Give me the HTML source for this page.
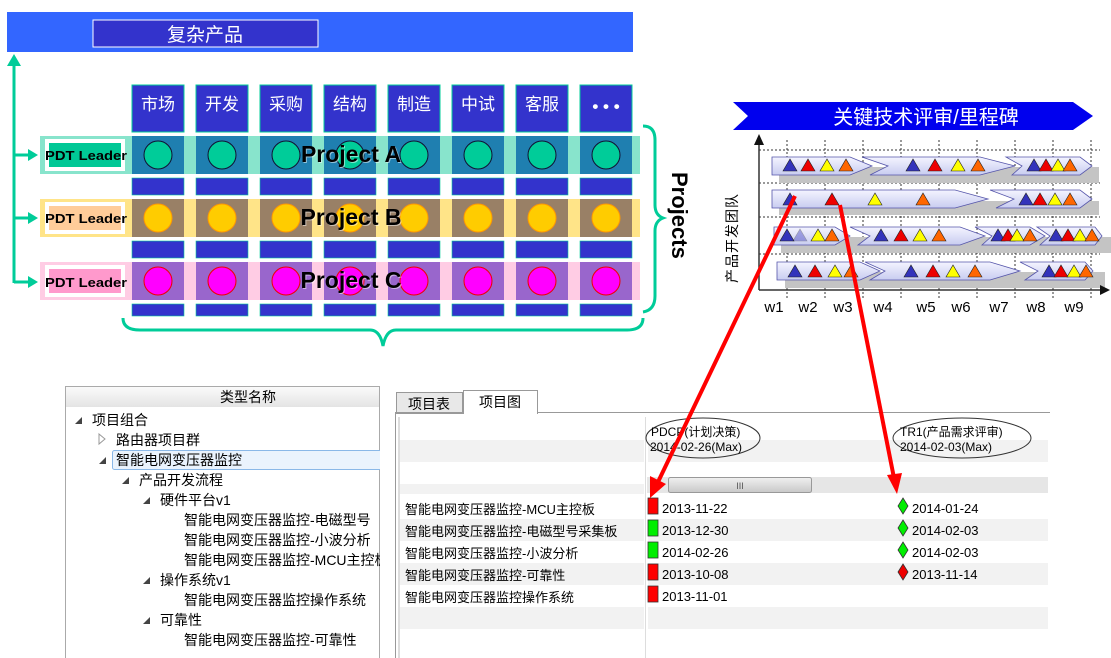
<!DOCTYPE html>
<html><head><meta charset="utf-8"><style>
html,body{margin:0;padding:0;background:#fff;width:1111px;height:658px;overflow:hidden}
svg{display:block}
text{font-family:"Liberation Sans","Noto Sans CJK SC",sans-serif}
</style></head><body>
<svg width="1111" height="658" viewBox="0 0 1111 658" xmlns="http://www.w3.org/2000/svg">
<defs>
<linearGradient id="bar" x1="0" y1="0" x2="0" y2="1"><stop offset="0" stop-color="#f4f4ff"/><stop offset="1" stop-color="#c8ccf0"/></linearGradient>
<linearGradient id="hdr" x1="0" y1="0" x2="0" y2="1"><stop offset="0" stop-color="#fafafa"/><stop offset="1" stop-color="#e4e4e4"/></linearGradient>
<linearGradient id="thumb" x1="0" y1="0" x2="0" y2="1"><stop offset="0" stop-color="#f0f0f0"/><stop offset="1" stop-color="#c8c8c8"/></linearGradient>
<g id="tb"><polygon points="-7,6 7,6 0,-6" fill="#3333bb" stroke="#222" stroke-width="0.6"/></g>
<g id="tr"><polygon points="-7,6 7,6 0,-6" fill="#ee0000" stroke="#222" stroke-width="0.6"/></g>
<g id="ty"><polygon points="-7,6 7,6 0,-6" fill="#ffff00" stroke="#222" stroke-width="0.6"/></g>
<g id="to"><polygon points="-7,6 7,6 0,-6" fill="#ff6600" stroke="#222" stroke-width="0.6"/></g>
</defs>

<rect x="7" y="12" width="626" height="40" fill="#3366ff"/>
<rect x="93" y="20" width="225" height="27" fill="#3333cc" stroke="#fff" stroke-width="1"/>
<text x="205" y="41" font-size="19" fill="#fff" text-anchor="middle">复杂产品</text>

<g fill="#00cc99" stroke="#00cc99">
<line x1="14" y1="64" x2="14" y2="283" stroke-width="3"/>
<polygon points="7,66 21,66 14,54" stroke="none"/>
<line x1="14" y1="155" x2="30" y2="155" stroke-width="3"/>
<polygon points="28,149 38,155 28,161" stroke="none"/>
<line x1="14" y1="218" x2="30" y2="218" stroke-width="3"/>
<polygon points="28,212 38,218 28,224" stroke="none"/>
<line x1="14" y1="282" x2="30" y2="282" stroke-width="3"/>
<polygon points="28,276 38,282 28,288" stroke="none"/>
</g>

<g fill="#3333cc" stroke="#00cc99" stroke-width="1">
<rect x="132" y="85" width="52" height="47"/><rect x="196" y="85" width="52" height="47"/>
<rect x="260" y="85" width="52" height="47"/><rect x="324" y="85" width="52" height="47"/>
<rect x="388" y="85" width="52" height="47"/><rect x="452" y="85" width="52" height="47"/>
<rect x="516" y="85" width="52" height="47"/><rect x="580" y="85" width="52" height="47"/>
</g>
<g fill="#fff" font-size="17" text-anchor="middle">
<text x="158" y="110">市场</text><text x="222" y="110">开发</text><text x="286" y="110">采购</text><text x="350" y="110">结构</text>
<text x="414" y="110">制造</text><text x="478" y="110">中试</text><text x="542" y="110">客服</text><text x="606" y="112" font-weight="bold">• • •</text>
</g>

<g fill="#3333cc" stroke="#00cc99" stroke-width="0.6">
<rect x="132" y="178" width="52" height="17"/><rect x="196" y="178" width="52" height="17"/><rect x="260" y="178" width="52" height="17"/><rect x="324" y="178" width="52" height="17"/><rect x="388" y="178" width="52" height="17"/><rect x="452" y="178" width="52" height="17"/><rect x="516" y="178" width="52" height="17"/><rect x="580" y="178" width="52" height="17"/>
<rect x="132" y="241" width="52" height="17"/><rect x="196" y="241" width="52" height="17"/><rect x="260" y="241" width="52" height="17"/><rect x="324" y="241" width="52" height="17"/><rect x="388" y="241" width="52" height="17"/><rect x="452" y="241" width="52" height="17"/><rect x="516" y="241" width="52" height="17"/><rect x="580" y="241" width="52" height="17"/>
<rect x="132" y="304" width="52" height="12"/><rect x="196" y="304" width="52" height="12"/><rect x="260" y="304" width="52" height="12"/><rect x="324" y="304" width="52" height="12"/><rect x="388" y="304" width="52" height="12"/><rect x="452" y="304" width="52" height="12"/><rect x="516" y="304" width="52" height="12"/><rect x="580" y="304" width="52" height="12"/>
</g>

<rect x="40" y="136" width="600" height="38" fill="#88e4cc"/>
<rect x="40" y="199" width="600" height="38" fill="#ffe488"/>
<rect x="40" y="262" width="600" height="38" fill="#ffcce4"/>
<g>
<rect x="132" y="136" width="52" height="38" fill="#1f7fb0"/><rect x="196" y="136" width="52" height="38" fill="#1f7fb0"/><rect x="260" y="136" width="52" height="38" fill="#1f7fb0"/><rect x="324" y="136" width="52" height="38" fill="#1f7fb0"/><rect x="388" y="136" width="52" height="38" fill="#1f7fb0"/><rect x="452" y="136" width="52" height="38" fill="#1f7fb0"/><rect x="516" y="136" width="52" height="38" fill="#1f7fb0"/><rect x="580" y="136" width="52" height="38" fill="#1f7fb0"/>
<rect x="132" y="199" width="52" height="38" fill="#998066"/><rect x="196" y="199" width="52" height="38" fill="#998066"/><rect x="260" y="199" width="52" height="38" fill="#998066"/><rect x="324" y="199" width="52" height="38" fill="#998066"/><rect x="388" y="199" width="52" height="38" fill="#998066"/><rect x="452" y="199" width="52" height="38" fill="#998066"/><rect x="516" y="199" width="52" height="38" fill="#998066"/><rect x="580" y="199" width="52" height="38" fill="#998066"/>
<rect x="132" y="262" width="52" height="38" fill="#9966cc"/><rect x="196" y="262" width="52" height="38" fill="#9966cc"/><rect x="260" y="262" width="52" height="38" fill="#9966cc"/><rect x="324" y="262" width="52" height="38" fill="#9966cc"/><rect x="388" y="262" width="52" height="38" fill="#9966cc"/><rect x="452" y="262" width="52" height="38" fill="#9966cc"/><rect x="516" y="262" width="52" height="38" fill="#9966cc"/><rect x="580" y="262" width="52" height="38" fill="#9966cc"/>
</g>
<g fill="#00cc99" stroke="#113" stroke-width="1">
<ellipse cx="158" cy="155" rx="14" ry="14"/><ellipse cx="222" cy="155" rx="14" ry="14"/><ellipse cx="286" cy="155" rx="14" ry="14"/><ellipse cx="350" cy="155" rx="14" ry="14"/><ellipse cx="414" cy="155" rx="14" ry="14"/><ellipse cx="478" cy="155" rx="14" ry="14"/><ellipse cx="542" cy="155" rx="14" ry="14"/><ellipse cx="606" cy="155" rx="14" ry="14"/>
</g>
<g fill="#ffcc00" stroke="#ff9900" stroke-width="1">
<ellipse cx="158" cy="218" rx="14" ry="14"/><ellipse cx="222" cy="218" rx="14" ry="14"/><ellipse cx="286" cy="218" rx="14" ry="14"/><ellipse cx="350" cy="218" rx="14" ry="14"/><ellipse cx="414" cy="218" rx="14" ry="14"/><ellipse cx="478" cy="218" rx="14" ry="14"/><ellipse cx="542" cy="218" rx="14" ry="14"/><ellipse cx="606" cy="218" rx="14" ry="14"/>
</g>
<g fill="#ff00ff" stroke="#ee0000" stroke-width="1">
<ellipse cx="158" cy="281" rx="14" ry="14"/><ellipse cx="222" cy="281" rx="14" ry="14"/><ellipse cx="286" cy="281" rx="14" ry="14"/><ellipse cx="350" cy="281" rx="14" ry="14"/><ellipse cx="414" cy="281" rx="14" ry="14"/><ellipse cx="478" cy="281" rx="14" ry="14"/><ellipse cx="542" cy="281" rx="14" ry="14"/><ellipse cx="606" cy="281" rx="14" ry="14"/>
</g>
<rect x="45" y="139" width="80" height="32" fill="#fff"/><rect x="49" y="143" width="72" height="24" fill="#00c896"/>
<rect x="45" y="202" width="80" height="32" fill="#fff"/><rect x="49" y="206" width="72" height="24" fill="#ffcc99"/>
<rect x="45" y="265" width="80" height="32" fill="#fff"/><rect x="49" y="269" width="72" height="24" fill="#ff99cc"/>
<g font-size="12.5" font-weight="bold" fill="#000">
<text x="45" y="160" textLength="82" lengthAdjust="spacingAndGlyphs">PDT Leader</text><text x="45" y="223" textLength="82" lengthAdjust="spacingAndGlyphs">PDT Leader</text><text x="45" y="287" textLength="82" lengthAdjust="spacingAndGlyphs">PDT Leader</text>
</g>
<g font-size="23" font-weight="bold" text-anchor="middle">
<text x="352" y="163" fill="#fff" opacity="0.5">Project A</text><text x="351" y="162" fill="#000">Project A</text>
<text x="352" y="226" fill="#fff" opacity="0.5">Project B</text><text x="351" y="225" fill="#000">Project B</text>
<text x="352" y="289" fill="#fff" opacity="0.5">Project C</text><text x="351" y="288" fill="#000">Project C</text>
</g>

<path d="M643,126 Q655,126 655,140 L655,205 Q655,215 663,218 Q655,221 655,231 L655,296 Q655,310 643,312" fill="none" stroke="#00cc99" stroke-width="3"/>
<path d="M123,318 Q123,330 140,330 L370,330 Q380,330 383,346 Q386,330 396,330 L627,330 Q643,330 643,318" fill="none" stroke="#00cc99" stroke-width="3"/>
<text transform="translate(672,172) rotate(90)" font-size="22" font-weight="bold" fill="#000">Projects</text>

<polygon points="733,102 1073,102 1093,116 1073,130 733,130 748,116" fill="#0000ee"/>
<text x="926" y="124" font-size="20" fill="#fff" text-anchor="middle">关键技术评审/里程碑</text>
<g stroke="#333" stroke-width="1" stroke-dasharray="2,2">
<line x1="759" y1="150" x2="1100" y2="150"/><line x1="759" y1="183" x2="1100" y2="183"/><line x1="759" y1="217" x2="1100" y2="217"/><line x1="759" y1="254" x2="1100" y2="254"/>
<line x1="787" y1="140" x2="787" y2="300"/><line x1="825" y1="140" x2="825" y2="300"/><line x1="863" y1="140" x2="863" y2="300"/><line x1="901" y1="140" x2="901" y2="300"/><line x1="939" y1="140" x2="939" y2="300"/><line x1="977" y1="140" x2="977" y2="300"/><line x1="1015" y1="140" x2="1015" y2="300"/><line x1="1053" y1="140" x2="1053" y2="300"/><line x1="1091" y1="140" x2="1091" y2="300"/>
</g>
<g fill="#c4c4c4">
<rect x="779" y="167" width="320" height="16"/><rect x="779" y="201" width="320" height="14"/><rect x="781" y="237" width="330" height="16"/><rect x="785" y="272" width="320" height="16"/>
</g>
<g fill="url(#bar)" stroke="#5555aa" stroke-width="0.8">
<polygon points="772,157 850,157 872,166 850,175 772,175"/>
<polygon points="862,157 980,157 1015,166 980,175 870,175 888,166"/>
<polygon points="1006,157 1080,157 1092,166 1080,175 1012,175 1022,166"/>
<polygon points="772,190 955,190 988,199 955,208 772,208"/>
<polygon points="990,190 1080,190 1092,199 1080,208 996,208 1014,199"/>
<polygon points="774,227 835,227 850,236 835,245 774,245"/>
<polygon points="850,227 960,227 985,236 960,245 858,245 870,236"/>
<polygon points="975,227 1030,227 1045,236 1030,245 982,245 992,236"/>
<polygon points="1037,227 1095,227 1102,236 1095,245 1040,245 1050,236"/>
<polygon points="777,262 860,262 880,271 860,280 777,280"/>
<polygon points="865,262 990,262 1020,271 990,280 870,280 885,271"/>
<polygon points="1020,262 1085,262 1093,271 1085,280 1025,280 1038,271"/>
</g>
<g>
<use href="#tb" x="790" y="165"/><use href="#tr" x="808" y="165"/><use href="#ty" x="827" y="165"/><use href="#to" x="846" y="165"/>
<use href="#tb" x="913" y="165"/><use href="#tr" x="935" y="165"/><use href="#ty" x="958" y="165"/><use href="#to" x="978" y="165"/>
<use href="#tb" x="1034" y="165"/><use href="#tr" x="1046" y="165"/><use href="#ty" x="1058" y="165"/><use href="#to" x="1070" y="165"/>
<use href="#tb" x="790" y="199"/><use href="#tr" x="832" y="199"/><use href="#ty" x="875" y="199"/><use href="#to" x="923" y="199"/>
<use href="#tb" x="1026" y="199"/><use href="#tr" x="1040" y="199"/><use href="#ty" x="1055" y="199"/><use href="#to" x="1070" y="199"/>
<use href="#tb" x="787" y="235"/><use href="#tb" x="800" y="235" opacity="0.4"/><use href="#ty" x="818" y="235"/><use href="#to" x="832" y="235"/>
<use href="#tb" x="881" y="235"/><use href="#tr" x="901" y="235"/><use href="#ty" x="920" y="235"/><use href="#to" x="939" y="235"/>
<use href="#tb" x="998" y="235"/><use href="#tr" x="1008" y="235"/><use href="#ty" x="1017" y="235"/><use href="#to" x="1030" y="235"/>
<use href="#tb" x="1056" y="235"/><use href="#tr" x="1068" y="235"/><use href="#ty" x="1080" y="235"/><use href="#to" x="1092" y="235"/>
<use href="#tb" x="795" y="271"/><use href="#tr" x="815" y="271"/><use href="#ty" x="835" y="271"/><use href="#to" x="851" y="271"/>
<use href="#tb" x="911" y="271"/><use href="#tr" x="933" y="271"/><use href="#ty" x="953" y="271"/><use href="#to" x="975" y="271"/>
<use href="#tb" x="1049" y="271"/><use href="#tr" x="1061" y="271"/><use href="#ty" x="1074" y="271"/><use href="#to" x="1086" y="271"/>
</g>
<line x1="759" y1="290" x2="759" y2="140" stroke="#333" stroke-width="1.5"/>
<polygon points="754,145 764,145 759,134" fill="#111"/>
<line x1="759" y1="290" x2="1102" y2="290" stroke="#333" stroke-width="1.5"/>
<polygon points="1100,285 1100,295 1110,290" fill="#111"/>
<g font-size="15" fill="#000" text-anchor="middle">
<text x="774" y="312">w1</text><text x="808" y="312">w2</text><text x="843" y="312">w3</text><text x="883" y="312">w4</text><text x="926" y="312">w5</text><text x="961" y="312">w6</text><text x="999" y="312">w7</text><text x="1036" y="312">w8</text><text x="1074" y="312">w9</text>
</g>
<text transform="translate(737,283) rotate(-90)" font-size="14" fill="#000" letter-spacing="1">产品开发团队</text>

<rect x="65.5" y="386.5" width="314" height="275" fill="#fff" stroke="#aaa"/>
<rect x="66" y="387" width="313" height="20" fill="url(#hdr)"/>
<text x="248" y="402" font-size="14" text-anchor="middle" fill="#000">类型名称</text>
<rect x="112.5" y="450.5" width="275" height="19" rx="2" fill="#eaf3fd" stroke="#8ab8e8"/>
<g font-size="14" fill="#000">
<text x="92" y="425">项目组合</text>
<text x="116" y="445">路由器项目群</text>
<text x="116" y="465">智能电网变压器监控</text>
<text x="139" y="485">产品开发流程</text>
<text x="160" y="505">硬件平台v1</text>
<text x="184" y="525">智能电网变压器监控-电磁型号</text>
<text x="184" y="545">智能电网变压器监控-小波分析</text>
<text x="184" y="565">智能电网变压器监控-MCU主控板</text>
<text x="160" y="585">操作系统v1</text>
<text x="184" y="605">智能电网变压器监控操作系统</text>
<text x="160" y="625">可靠性</text>
<text x="184" y="645">智能电网变压器监控-可靠性</text>
</g>
<rect x="380" y="387" width="15" height="271" fill="#fff"/>
<g fill="#444">
<polygon points="75,424 82,417 82,424"/><polygon points="99,464 106,457 106,464"/><polygon points="122,484 129,477 129,484"/>
<polygon points="143,504 150,497 150,504"/><polygon points="143,584 150,577 150,584"/><polygon points="143,624 150,617 150,624"/>
</g>
<polygon points="99,434 105,439 99,444" fill="none" stroke="#999"/>

<rect x="396.5" y="392.5" width="66" height="21" fill="#e8e8e8" stroke="#999"/>
<text x="429" y="409" font-size="14" text-anchor="middle">项目表</text>
<rect x="463.5" y="390.5" width="74" height="23" fill="#fff" stroke="#999"/>
<text x="500" y="407" font-size="14" text-anchor="middle">项目图</text>
<path d="M395.5,658 L395.5,412.5 L463,412.5 M537,412.5 L1050,412.5" fill="none" stroke="#999"/>
<rect x="464" y="412" width="73" height="2" fill="#fff"/>
<line x1="399" y1="417" x2="399" y2="658" stroke="#bbb"/>
<g fill="#f2f2f2">
<rect x="400" y="440" width="244" height="22"/><rect x="648" y="440" width="400" height="22"/>
<rect x="400" y="484" width="244" height="10"/>
<rect x="400" y="519" width="244" height="22"/><rect x="648" y="519" width="400" height="22"/>
<rect x="400" y="563" width="244" height="22"/><rect x="648" y="563" width="400" height="22"/>
<rect x="400" y="607" width="244" height="22"/><rect x="648" y="607" width="400" height="22"/>
</g>
<line x1="645.5" y1="417" x2="645.5" y2="658" stroke="#ddd"/>
<ellipse cx="703" cy="438" rx="57" ry="20" fill="none" stroke="#333"/>
<ellipse cx="962" cy="438" rx="69" ry="20" fill="none" stroke="#333"/>
<g font-size="12" fill="#000">
<text x="651" y="436">PDCP(计划决策)</text><text x="650" y="451">2014-02-26(Max)</text>
<text x="900" y="436">TR1(产品需求评审)</text><text x="900" y="451">2014-02-03(Max)</text>
</g>
<rect x="647" y="477" width="401" height="16" fill="#e6e6e6"/>
<rect x="668.5" y="477.5" width="143" height="15" rx="2" fill="url(#thumb)" stroke="#999"/>
<text x="740" y="489" font-size="9" text-anchor="middle" fill="#555">III</text>
<polygon points="652,485 656,481 656,489" fill="#555"/>
<g font-size="13" fill="#000">
<text x="405" y="514">智能电网变压器监控-MCU主控板</text>
<text x="405" y="536">智能电网变压器监控-电磁型号采集板</text>
<text x="405" y="558">智能电网变压器监控-小波分析</text>
<text x="405" y="580">智能电网变压器监控-可靠性</text>
<text x="405" y="602">智能电网变压器监控操作系统</text>
</g>
<g stroke="#333" stroke-width="0.8">
<rect x="648" y="498" width="10" height="16" fill="#ff0000"/>
<rect x="648" y="520" width="10" height="16" fill="#00ee00"/>
<rect x="648" y="542" width="10" height="16" fill="#00ee00"/>
<rect x="648" y="564" width="10" height="16" fill="#ff0000"/>
<rect x="648" y="586" width="10" height="16" fill="#ff0000"/>
<polygon points="903,498 908,506 903,514 898,506" fill="#00ee00"/>
<polygon points="903,520 908,528 903,536 898,528" fill="#00ee00"/>
<polygon points="903,542 908,550 903,558 898,550" fill="#00ee00"/>
<polygon points="903,564 908,572 903,580 898,572" fill="#ee0000"/>
</g>
<g font-size="13" fill="#000">
<text x="662" y="513">2013-11-22</text><text x="662" y="535">2013-12-30</text><text x="662" y="557">2014-02-26</text><text x="662" y="579">2013-10-08</text><text x="662" y="601">2013-11-01</text>
<text x="912" y="513">2014-01-24</text><text x="912" y="535">2014-02-03</text><text x="912" y="557">2014-02-03</text><text x="912" y="579">2013-11-14</text>
</g>

<g stroke="#ff0000" stroke-width="4" fill="#ff0000">
<line x1="795" y1="196" x2="658" y2="482"/>
<polygon points="650,498 650,476 666,484" stroke="none"/>
<line x1="840" y1="205" x2="894" y2="478"/>
<polygon points="897,494 887,475 902,473" stroke="none"/>
</g>
</svg>
</body></html>
